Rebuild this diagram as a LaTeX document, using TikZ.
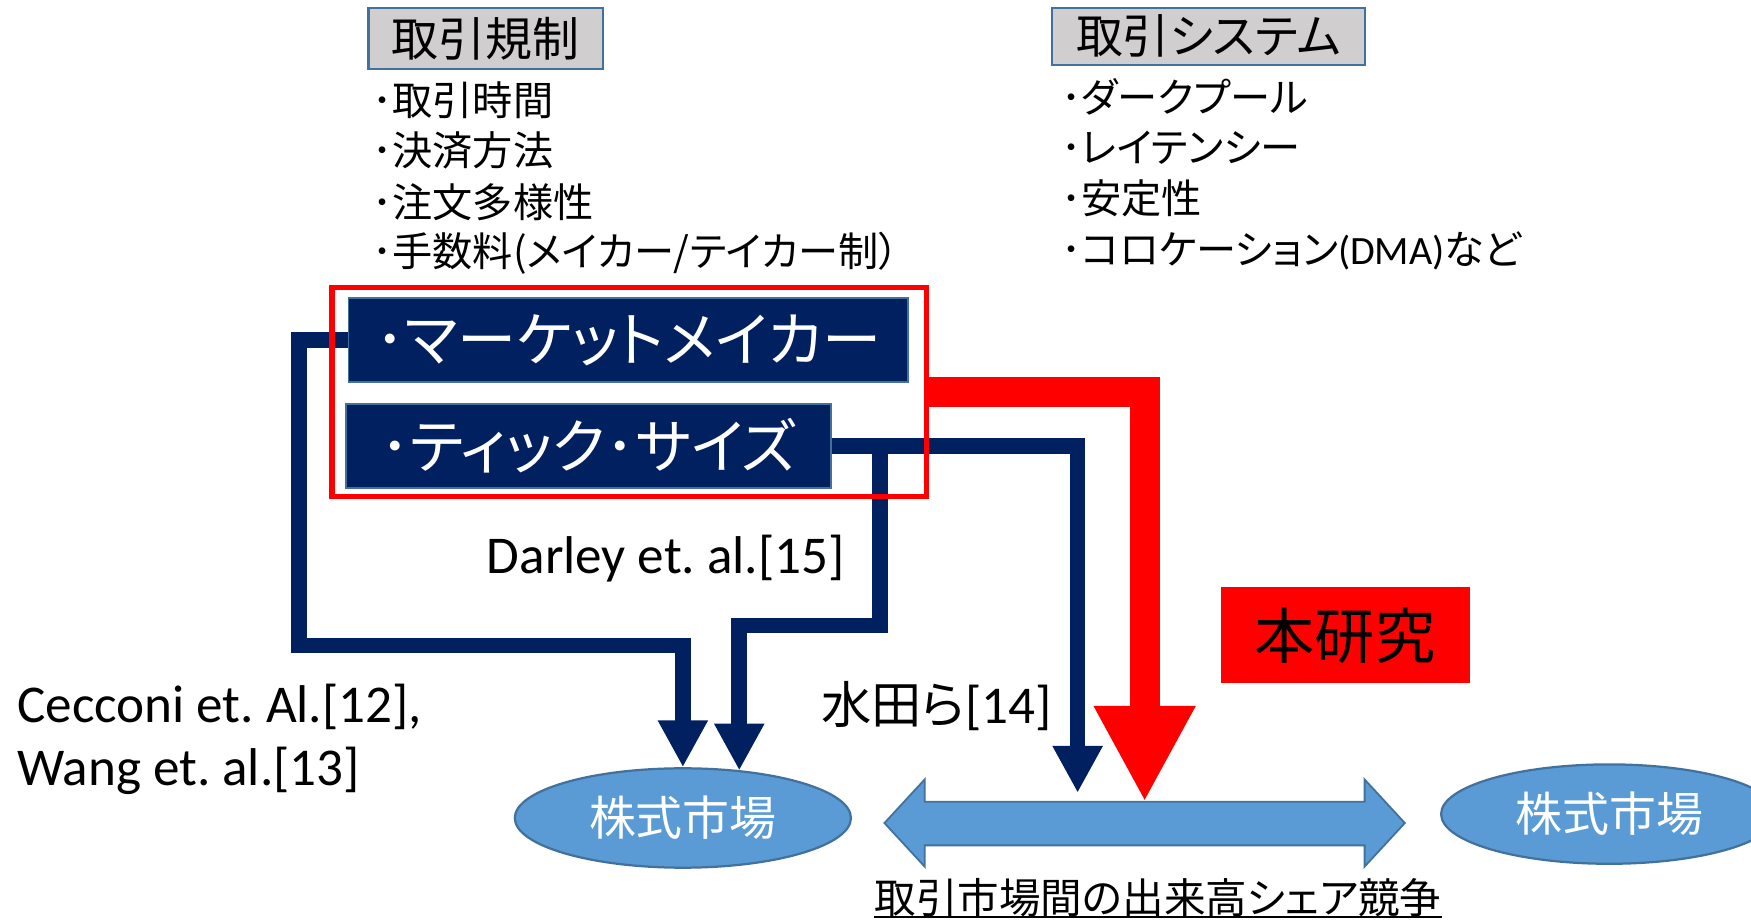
\documentclass[tikz,border=0pt]{standalone}
\usepackage{fontspec}
\usetikzlibrary{arrows.meta,shapes.geometric,backgrounds}
\newfontfamily\jp[CharacterWidth=AlternateProportional]{Noto Sans CJK JP}
\newfontfamily\lat{Carlito}
\definecolor{navy}{HTML}{002060}
\definecolor{bord}{HTML}{41719C}
\definecolor{gbox}{HTML}{D0CECE}
\definecolor{lblue}{HTML}{5B9BD5}
\definecolor{rred}{HTML}{FF0000}
\frenchspacing
\tikzset{
  titlebox/.style={draw=bord, fill=gbox, line width=1pt, inner sep=0pt, font=\jp\fontsize{21}{25}\selectfont},
  navybox/.style={draw=bord, fill=navy, line width=0.8pt, inner sep=0pt, text=white, font=\jp\fontsize{26.5}{30}\selectfont},
  listtxt/.style={anchor=west, inner sep=0pt, font=\jp\fontsize{18}{22}\selectfont},
  reftxt/.style={inner sep=0pt, font=\lat\fontsize{23.8}{28}\selectfont},
  navyarrow/.style={draw=navy, line width=7pt, line join=miter, -{Triangle[width=21pt,length=21pt]}},
  redarrow/.style={draw=rred, line width=13.5pt, line join=miter, -{Triangle[width=42.5pt,length=43pt]}},
  market/.style={ellipse, draw=bord, fill=lblue, line width=1pt, inner sep=0pt, minimum width=150.5pt, minimum height=44.5pt, text=white, font=\jp\fontsize{21}{25}\selectfont},
  focusbox/.style={draw=rred, line width=2.5pt, inner sep=0pt},
  oursbox/.style={fill=rred, inner sep=0pt, font=\jp\fontsize{27}{32}\selectfont},
  compband/.style={fill=lblue, draw=bord, line width=0.8pt}
}
\begin{document}
\begin{tikzpicture}[x=0.5pt,y=-0.5pt]
\useasboundingbox (0,0) rectangle (1568,824);
\clip (0,0) rectangle (1568,824);

% title boxes
\node[titlebox, minimum width=105pt, minimum height=27.5pt] (reg) at (435,34.5) {取引規制};
\node[titlebox, minimum width=140pt, minimum height=25.5pt] (sys) at (1082,32.5) {取引システム};

% lists
\node[listtxt] (r1) at (333,90) {･取引時間};
\node[listtxt] (r2) at (333,135) {･決済方法};
\node[listtxt] (r3) at (333,181) {･注文多様性};
\node[listtxt] (r4) at (333,227) {･手数料(メイカー/テイカー制）};
\node[listtxt] (s1) at (950,87) {･ダークプール};
\node[listtxt] (s2) at (950,132) {･レイテンシー};
\node[listtxt] (s3) at (950,178) {･安定性};
\node[listtxt] (s4) at (950,225) {･コロケーション{\lat (DMA)}など};

% factor boxes
\node[navybox, minimum width=250.5pt, minimum height=37.5pt] (mm) at (562.5,304.5) {･マーケットメイカー};
\node[navybox, minimum width=217pt, minimum height=37.5pt] (ts) at (527,399.5) {･ティック･サイズ};
\node[focusbox, minimum width=266pt, minimum height=93.5pt] (focus) at (563.5,351) {};

% markets
\node[market] (mkt1) at (611.5,732.5) {株式市場};
\node[market] (mkt2) at (1441,729) {株式市場};

% ours
\node[oursbox, minimum width=111.5pt, minimum height=43pt] (ours) at (1204.5,569) {本研究};

% reference labels
\node[reftxt, anchor=east] (darley) at (757,500) {Darley et. al.[15]};
\node[reftxt, anchor=west] (cec) at (15,633) {Cecconi et. Al.[12],};
\node[reftxt, anchor=west] (wang) at (15,690) {Wang et. al.[13]};
\node[inner sep=0pt, anchor=west] (mizuta) at (735,632) {{\jp\fontsize{22.5}{27}\selectfont 水田ら}{\lat\fontsize{23.8}{28}\selectfont [14]}};

% competition label
\node[inner sep=0pt, font=\jp\fontsize{18.6}{22}\selectfont] (comp) at (1037,803.5) {取引市場間の出来高シェア競争};
\draw[line width=1pt] (comp.south west) -- (comp.south east);

\coordinate (mztip) at (965,710);
\coordinate (ourtip) at (1025,718);
\coordinate (br) at (788,400);

\begin{pgfonlayer}{background}
  \filldraw[compband] (792,737) -- (828,698) -- (828,718) -- (1222,718) -- (1222,698) -- (1258,737)
     -- (1222,776) -- (1222,757) -- (828,757) -- (828,776) -- cycle;
  \draw[navyarrow] (mm.west) -- (268,304.5) -- (268,578) -- (611.5,578) -- (mkt1.north);
  \draw[navyarrow] (ts.east) -- (965,399.5) -- (mztip);
  \draw[navyarrow] (br) -- (788,560) -- (662,560) -- (662,690);
\end{pgfonlayer}

\draw[redarrow] (focus.east) -- (1025,351) -- (ourtip);
\end{tikzpicture}
\end{document}
